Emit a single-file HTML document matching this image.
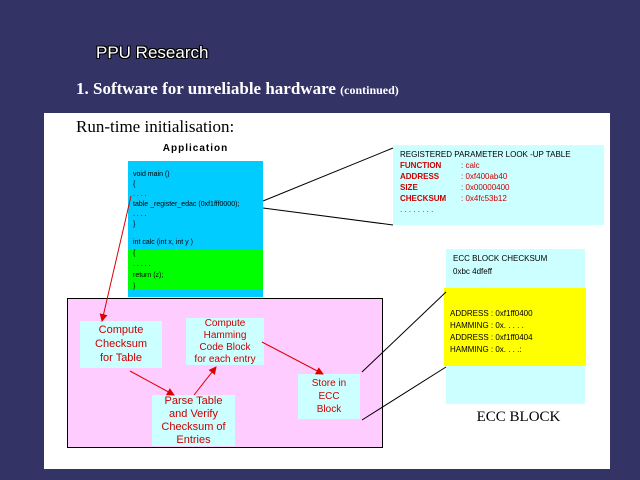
<!DOCTYPE html><html><head><style>
body{margin:0;width:640px;height:480px;background:#333366;position:relative;overflow:hidden;font-family:"Liberation Sans",sans-serif}
.a{position:absolute}
.t{color:#cc0000;font-size:10px;text-align:center;line-height:12px;background:#ccffff;position:absolute}
</style></head><body>
<div class="a" style="left:96px;top:43px;color:#fff;font-size:17px;text-shadow:1px 1px 0 #000,-1px -1px 0 #000,1px -1px 0 #000,-1px 1px 0 #000">PPU Research</div>
<div class="a" style="left:76px;top:79px;color:#fff;font-family:'Liberation Serif',serif;font-weight:bold;font-size:17px">1. Software for unreliable hardware <span style="font-size:12px">(continued)</span></div>
<div class="a" style="left:44px;top:113px;width:566px;height:356px;background:#fff"></div>
<div class="a" style="left:76px;top:117px;font-family:'Liberation Serif',serif;font-size:17px">Run-time initialisation:</div>
<div class="a" style="left:128px;top:143px;width:135px;text-align:center;font-weight:bold;font-size:10px;letter-spacing:1px">Application</div>
<div class="a" style="left:128px;top:161px;width:135px;height:89px;background:#00ccff"></div>
<div class="a" style="left:128px;top:250px;width:135px;height:40px;background:#00ff00"></div>
<div class="a" style="left:128px;top:290px;width:135px;height:7px;background:#00ccff"></div>
<div class="a" style="left:133px;top:170px;font-size:7px;line-height:10px">void main ()<br>{<br>. . . .<br>table _register_edac (0xf1fff0000);<br>. . . .<br>}</div>
<div class="a" style="left:133px;top:237px;font-size:7px;line-height:11px">int calc (int x, int y )<br>{<br>. . . . .<br>return (z);<br>}</div>
<div class="a" style="left:393px;top:145px;width:211px;height:80px;background:#ccffff"></div>
<div class="a" style="left:400px;top:149px;font-size:8px;line-height:11px">REGISTERED PARAMETER LOOK -UP TABLE<br><span style="color:#cc0000;font-weight:bold">FUNCTION</span><span style="position:absolute;left:61px;color:#cc0000">: calc</span><br><span style="color:#cc0000;font-weight:bold">ADDRESS</span><span style="position:absolute;left:61px;color:#cc0000">: 0xf400ab40</span><br><span style="color:#cc0000;font-weight:bold">SIZE</span><span style="position:absolute;left:61px;color:#cc0000">: 0x00000400</span><br><span style="color:#cc0000;font-weight:bold">CHECKSUM</span><span style="position:absolute;left:61px;color:#cc0000">: 0x4fc53b12</span><br><span style="color:#cc0000">. . . . . . . .</span></div>
<div class="a" style="left:446px;top:249px;width:139px;height:155px;background:#ccffff"></div>
<div class="a" style="left:444px;top:288px;width:142px;height:78px;background:#ffff00"></div>
<div class="a" style="left:453px;top:252px;font-size:8px;line-height:13px">ECC BLOCK CHECKSUM<br>0xbc 4dfeff</div>
<div class="a" style="left:450px;top:308px;font-size:8px;line-height:12px">ADDRESS : 0xf1ff0400<br>HAMMING : 0x. . . . .<br>ADDRESS : 0xf1ff0404<br>HAMMING : 0x. . . .:</div>
<div class="a" style="left:446px;top:409px;width:145px;text-align:center;font-family:'Liberation Serif',serif;font-size:15px">ECC BLOCK</div>
<div class="a" style="left:67px;top:298px;width:314px;height:148px;background:#ffccff;border:1px solid #000"></div>
<div class="t" style="left:80px;top:321px;width:82px;height:47px;font-size:11px;line-height:14px;padding-top:2px;box-sizing:border-box">Compute<br>Checksum<br>for Table</div>
<div class="t" style="left:186px;top:318px;width:78px;height:47px">Compute<br>Hamming<br>Code Block<br>for each entry</div>
<div class="t" style="left:152px;top:395px;width:83px;height:51px;font-size:11px;line-height:13px">Parse Table<br>and Verify<br>Checksum of<br>Entries</div>
<div class="t" style="left:298px;top:374px;width:62px;height:45px;line-height:13px;padding-top:3px;box-sizing:border-box">Store in<br>ECC<br>Block</div>
<svg class="a" style="left:0;top:0" width="640" height="480">
<defs><marker id="m" markerWidth="8" markerHeight="8" refX="7" refY="4" orient="auto"><path d="M0,0L8,4L0,8z" fill="#dd0000"/></marker></defs>
<g stroke="#000" stroke-width="1">
<line x1="263" y1="201" x2="393" y2="148"/><line x1="263" y1="208" x2="393" y2="225"/>
<line x1="362" y1="372" x2="446" y2="292"/><line x1="362" y1="420" x2="446" y2="367"/>
</g>
<g stroke="#dd0000" stroke-width="1" marker-end="url(#m)">
<line x1="131" y1="196" x2="102" y2="321"/>
<line x1="130" y1="371" x2="174" y2="395"/>
<line x1="194" y1="395" x2="216" y2="367"/>
<line x1="262" y1="342" x2="323" y2="374"/>
</g></svg>
</body></html>
